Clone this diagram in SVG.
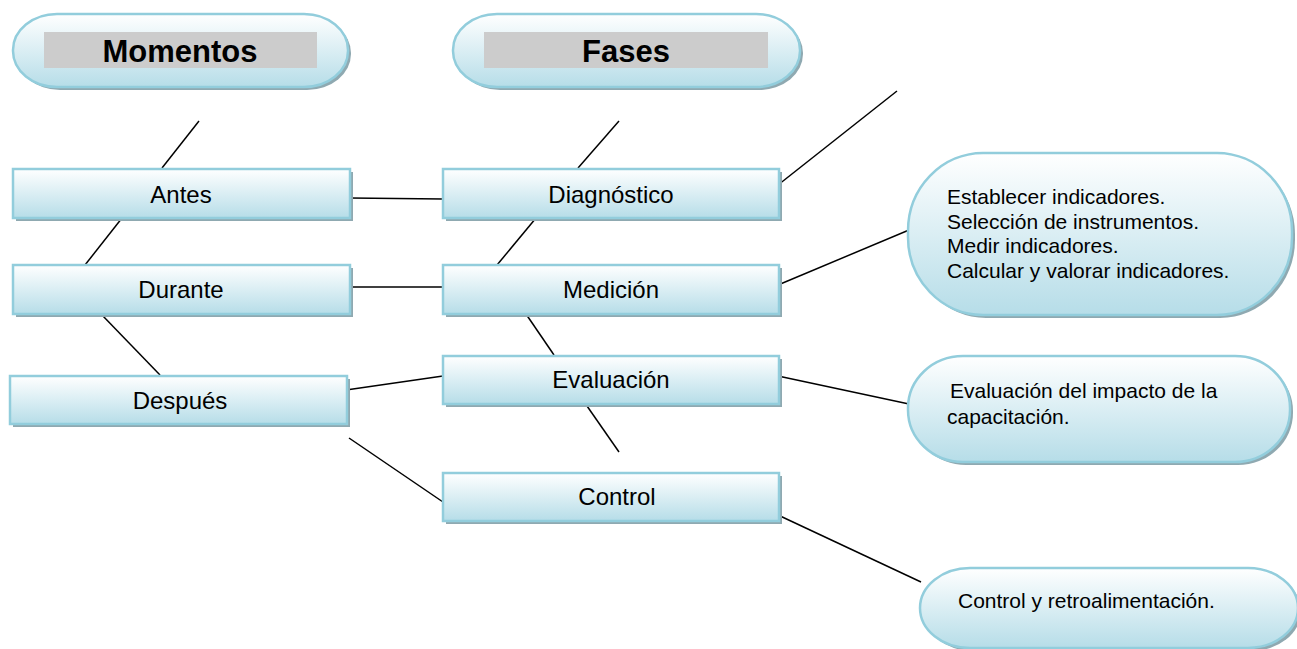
<svg xmlns="http://www.w3.org/2000/svg" width="1297" height="649" viewBox="0 0 1297 649">
<defs>
<linearGradient id="g" x1="0" y1="0" x2="0" y2="1">
<stop offset="0" stop-color="#ffffff"/>
<stop offset="1" stop-color="#b6dde8"/>
</linearGradient>
<style>
.sh{fill:#8fa9b1}
.bx{fill:url(#g);stroke:#92cddc;stroke-width:2.5}
.t{font-family:"Liberation Sans",Arial,sans-serif;font-size:24px;fill:#000;text-anchor:middle}
.h{font-family:"Liberation Sans",Arial,sans-serif;font-size:31px;font-weight:bold;fill:#000;text-anchor:middle}
.s{font-family:"Liberation Sans",Arial,sans-serif;font-size:21px;fill:#000}
.ln{stroke:#000;stroke-width:1.5;fill:none}
</style>
</defs>
<rect width="1297" height="649" fill="#fff"/>
<g id="connectors">
<line class="ln" x1="199" y1="121" x2="162" y2="168"/>
<line class="ln" x1="122" y1="218" x2="85" y2="265"/>
<line class="ln" x1="102" y1="315" x2="160" y2="375"/>
<line class="ln" x1="350" y1="198" x2="443" y2="199"/>
<line class="ln" x1="350" y1="287" x2="443" y2="287"/>
<line class="ln" x1="346" y1="390" x2="443" y2="376"/>
<line class="ln" x1="349" y1="438" x2="443" y2="502"/>
<line class="ln" x1="619" y1="121" x2="578" y2="168"/>
<line class="ln" x1="536" y1="218" x2="497" y2="265"/>
<line class="ln" x1="526" y1="314" x2="554" y2="355"/>
<line class="ln" x1="587" y1="406" x2="619" y2="452"/>
<line class="ln" x1="778" y1="185" x2="897" y2="91"/>
<line class="ln" x1="778" y1="285" x2="909" y2="230"/>
<line class="ln" x1="778" y1="376" x2="909" y2="404"/>
<line class="ln" x1="778" y1="515" x2="921" y2="582"/>
</g>
<g id="momentos">
<rect class="sh" x="16" y="17" width="335" height="73" rx="44" ry="36"/>
<rect class="bx" x="13" y="14" width="335" height="73" rx="44" ry="36"/>
<rect x="44" y="32" width="273" height="36" fill="#cccccc"/>
<text class="h" x="180" y="62">Momentos</text>
</g>
<g id="fases">
<rect class="sh" x="456" y="17" width="347" height="73" rx="44" ry="36"/>
<rect class="bx" x="453" y="14" width="347" height="73" rx="44" ry="36"/>
<rect x="484" y="32" width="284" height="36" fill="#cccccc"/>
<text class="h" x="626" y="62">Fases</text>
</g>
<g id="antes">
<rect class="sh" x="16" y="172" width="337" height="49"/>
<rect class="bx" x="13" y="169" width="337" height="49"/>
<text class="t" x="181" y="203">Antes</text>
</g>
<g id="durante">
<rect class="sh" x="16" y="268" width="337" height="49"/>
<rect class="bx" x="13" y="265" width="337" height="49"/>
<text class="t" x="181" y="298">Durante</text>
</g>
<g id="despues">
<rect class="sh" x="13" y="379" width="337" height="48"/>
<rect class="bx" x="10" y="376" width="337" height="48"/>
<text class="t" x="180" y="409">Después</text>
</g>
<g id="diagnostico">
<rect class="sh" x="446" y="172" width="336" height="49"/>
<rect class="bx" x="443" y="169" width="336" height="49"/>
<text class="t" x="611" y="203">Diagnóstico</text>
</g>
<g id="medicion">
<rect class="sh" x="446" y="268" width="336" height="49"/>
<rect class="bx" x="443" y="265" width="336" height="49"/>
<text class="t" x="611" y="298">Medición</text>
</g>
<g id="evaluacion">
<rect class="sh" x="446" y="359" width="336" height="48"/>
<rect class="bx" x="443" y="356" width="336" height="48"/>
<text class="t" x="611" y="388">Evaluación</text>
</g>
<g id="control">
<rect class="sh" x="446" y="476" width="336" height="48"/>
<rect class="bx" x="443" y="473" width="336" height="48"/>
<text class="t" x="617" y="505">Control</text>
</g>
<g id="medicion-detalle">
<rect class="sh" x="911" y="156" width="384" height="162" rx="75" ry="78"/>
<rect class="bx" x="908" y="153" width="384" height="162" rx="75" ry="78"/>
<text class="s" x="947" y="204">Establecer indicadores.</text>
<text class="s" x="947" y="228.5">Selección de instrumentos.</text>
<text class="s" x="947" y="253">Medir indicadores.</text>
<text class="s" x="947" y="278">Calcular y valorar indicadores.</text>
</g>
<g id="evaluacion-detalle">
<rect class="sh" x="911" y="359" width="382" height="106" rx="55" ry="52"/>
<rect class="bx" x="908" y="356" width="382" height="106" rx="55" ry="52"/>
<text class="s" x="950" y="398">Evaluación del impacto de la</text>
<text class="s" x="947" y="424">capacitación.</text>
</g>
<g id="control-detalle">
<rect class="sh" x="923" y="571" width="378" height="80" rx="50" ry="42"/>
<rect class="bx" x="920" y="568" width="378" height="80" rx="50" ry="42"/>
<text class="s" x="958" y="608">Control y retroalimentación.</text>
</g>
</svg>
